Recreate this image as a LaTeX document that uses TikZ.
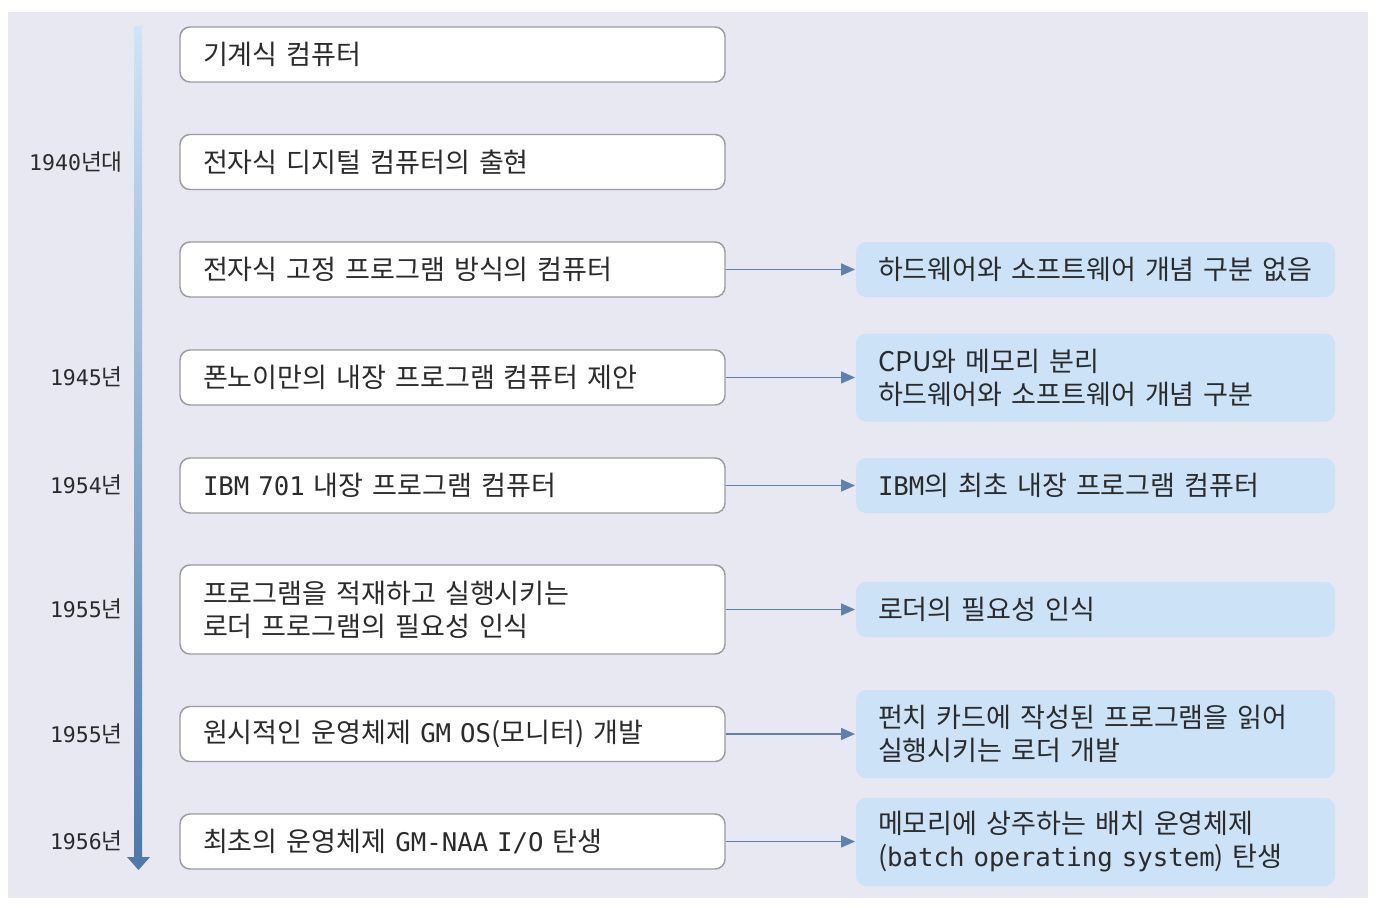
\documentclass[tikz,border=0pt]{standalone}
\usepackage{fontspec}
\setmainfont{Noto Sans CJK KR}
\newfontfamily\mono[Scale=0.95]{DejaVu Sans Mono}
\usetikzlibrary{arrows.meta}
\definecolor{panel}{HTML}{E7E8F1}
\definecolor{lborder}{HTML}{9C9C9C}
\definecolor{rfill}{HTML}{CCE3F7}
\definecolor{conncol}{HTML}{5C82AF}
\definecolor{txt}{HTML}{2B2B2B}
\definecolor{tltop}{HTML}{CFE4F6}
\definecolor{tlbot}{HTML}{4E79A8}
\tikzset{
  lbox/.style={draw=lborder, line width=1.1pt, fill=white, rounded corners=7.5pt,
    text width=374.25pt, inner xsep=17.25pt, inner ysep=0pt, align=left,
    minimum height=41.25pt, text=txt,
    font=\fontsize{20.3}{24.75}\selectfont},
  rbox/.style={fill=rfill, rounded corners=7.5pt,
    text width=326.25pt, inner xsep=16.5pt, inner ysep=0pt, align=left,
    minimum height=41.25pt, text=txt,
    font=\fontsize{20.3}{24.75}\selectfont},
  conn/.style={draw=conncol, line width=1.1pt, -{Triangle[length=10.5pt,width=9pt]}, shorten >=0.5pt},
  yearlbl/.style={anchor=east, inner sep=0pt, text=txt, font=\fontsize{17}{20}\selectfont}
}
\begin{document}
\begin{tikzpicture}[x=0.75pt,y=-0.75pt]
\useasboundingbox (0,0) rectangle (1377,907);
\fill[white] (0,0) rectangle (1377,907);
\fill[panel] (8,12) rectangle (1368,898);
% timeline
\shade[top color=tltop, bottom color=tlbot] (134,26) rectangle (142,858);
\fill[tlbot] (127,857) -- (150,857) -- (138.5,870) -- cycle;
% year labels
\node[yearlbl] (y1) at (123,162) {{\mono 1940}년대};
\node[yearlbl] (y2) at (123,377) {{\mono 1945}년};
\node[yearlbl] (y3) at (123,485) {{\mono 1954}년};
\node[yearlbl] (y4) at (123,609) {{\mono 1955}년};
\node[yearlbl] (y5) at (123,734) {{\mono 1955}년};
\node[yearlbl] (y6) at (123,841) {{\mono 1956}년};
% left boxes
\node[lbox] (l1) at (452.5,54.5) {기계식 컴퓨터};
\node[lbox] (l2) at (452.5,162) {전자식 디지털 컴퓨터의 출현};
\node[lbox] (l3) at (452.5,269.5) {전자식 고정 프로그램 방식의 컴퓨터};
\node[lbox] (l4) at (452.5,377.5) {폰노이만의 내장 프로그램 컴퓨터 제안};
\node[lbox] (l5) at (452.5,485.5) {{\mono IBM 701} 내장 프로그램 컴퓨터};
\node[lbox, minimum height=66.75pt] (l6) at (452.5,609.5) {프로그램을 적재하고 실행시키는\\로더 프로그램의 필요성 인식};
\node[lbox] (l7) at (452.5,734) {원시적인 운영체제 {\mono GM OS}(모니터) 개발};
\node[lbox] (l8) at (452.5,841.5) {최초의 운영체제 {\mono GM-NAA I/O} 탄생};
% right boxes
\node[rbox] (r3) at (1095.5,269.5) {하드웨어와 소프트웨어 개념 구분 없음};
\node[rbox, minimum height=66pt] (r4) at (1095.5,377.5) {CPU와 메모리 분리\\하드웨어와 소프트웨어 개념 구분};
\node[rbox] (r5) at (1095.5,485.5) {{\mono IBM}의 최초 내장 프로그램 컴퓨터};
\node[rbox] (r6) at (1095.5,609.5) {로더의 필요성 인식};
\node[rbox, minimum height=66pt] (r7) at (1095.5,734) {펀치 카드에 작성된 프로그램을 읽어\\실행시키는 로더 개발};
\node[rbox, minimum height=66pt] (r8) at (1095.5,842) {메모리에 상주하는 배치 운영체제\\({\mono batch operating system}) 탄생};
% connectors
\draw[conn] (l3.east) -- (l3.east -| r3.west);
\draw[conn] (l4.east) -- (l4.east -| r4.west);
\draw[conn] (l5.east) -- (l5.east -| r5.west);
\draw[conn] (l6.east) -- (l6.east -| r6.west);
\draw[conn] (l7.east) -- (l7.east -| r7.west);
\draw[conn] (l8.east) -- (l8.east -| r8.west);
\end{tikzpicture}
\end{document}
